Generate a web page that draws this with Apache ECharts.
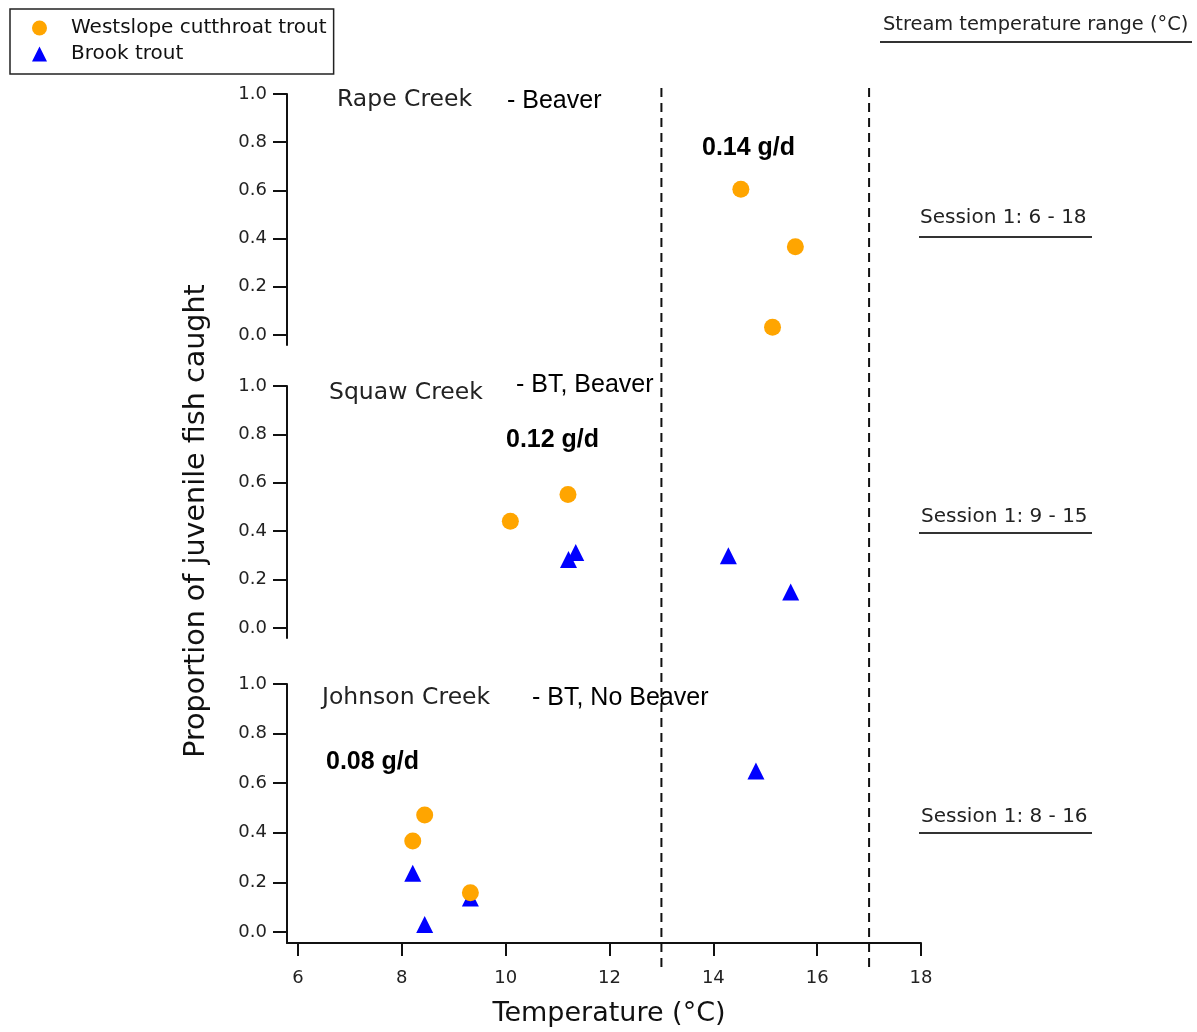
<!DOCTYPE html>
<html><head><meta charset="utf-8">
<script src="https://cdn.jsdelivr.net/npm/echarts@6/dist/echarts.min.js"></script>
<style>html,body{margin:0;padding:0;background:#fff}#c{width:1197px;height:1032px}</style>
</head><body><div id="c"></div>
<script>
// ---------- data ----------
const xTicks = [6, 8, 10, 12, 14, 16, 18];
const yTicks = [0, 0.2, 0.4, 0.6, 0.8, 1.0];
const seriesNames = ['Westslope cutthroat trout', 'Brook trout'];
const creeks = ['Rape Creek', 'Squaw Creek', 'Johnson Creek'];
const creekNotes = ['- Beaver', '- BT, Beaver', '- BT, No Beaver'];
const growthRates = ['0.14 g/d', '0.12 g/d', '0.08 g/d'];
const rangeHeader = 'Stream temperature range (°C)';
const tempRanges = ['Session 1: 6 - 18', 'Session 1: 9 - 15', 'Session 1: 8 - 16'];
const refTemps = [13, 17];
const xTitle = 'Temperature (°C)';
const yTitle = 'Proportion of juvenile fish caught';

// [temperature, proportion]
const rapeWCT = [[14.53, 0.605], [15.58, 0.366], [15.14, 0.032]];
const rapeBT = [];
const squawWCT = [[10.09, 0.441], [11.2, 0.552]];
const squawBT = [[11.21, 0.283], [11.35, 0.312], [14.29, 0.299], [15.49, 0.149]];
const johnsonWCT = [[8.21, 0.367], [8.44, 0.472], [9.32, 0.158]];
const johnsonBT = [[8.21, 0.237], [8.44, 0.030], [9.32, 0.137], [14.82, 0.649]];

// ---------- layout ----------
const WCT_COLOR = '#FFA500', BT_COLOR = '#0000FF';
const LUCIDA = '"DejaVu Sans", sans-serif';
const ARIAL = '"Liberation Sans", Arial, sans-serif';
const XMIN = 5.788, XMAX = 18;
const panels = [
  { top: 94, height: 251, ymin: -0.0415 },
  { top: 386, height: 252, ymin: -0.0413 },
  { top: 684, height: 259, ymin: -0.0444 }
];

const grids = panels.map(p => ({ left: 287, width: 634, top: p.top, height: p.height, containLabel: false, outerBoundsMode: 'none' }));
grids.push({ left: 287, width: 634, top: 87, height: 880, containLabel: false, outerBoundsMode: 'none' });

const xAxes = [0, 1, 2, 3].map(i => {
  const visible = i === 2;
  return {
    type: 'value', gridIndex: i, min: XMIN, max: XMAX, show: visible,
    splitLine: { show: false },
    axisLine: { show: visible, onZero: false, lineStyle: { color: '#111', width: 2 } },
    axisTick: { show: visible, customValues: xTicks, length: 13, lineStyle: { color: '#111', width: 2 } },
    axisLabel: { show: visible, customValues: xTicks, margin: 26, fontFamily: LUCIDA, fontSize: 18, color: '#222' },
    name: visible ? xTitle : '', nameLocation: 'middle', nameGap: 57,
    nameTextStyle: { fontFamily: LUCIDA, fontSize: 27, color: '#111', padding: [0, 0, 0, 10] }
  };
});

const yAxes = panels.map((p, i) => ({
  type: 'value', gridIndex: i, min: p.ymin, max: 1,
  splitLine: { show: false },
  axisLine: { show: true, onZero: false, lineStyle: { color: '#111', width: 2 } },
  axisTick: { show: true, customValues: yTicks, length: 14, lineStyle: { color: '#111', width: 2 } },
  axisLabel: { show: true, customValues: yTicks, margin: 20, fontFamily: LUCIDA, fontSize: 18, color: '#222',
    formatter: v => v.toFixed(1) }
}));
yAxes.push({ type: 'value', gridIndex: 3, min: 0, max: 1, show: false, splitLine: { show: false } });

const panelData = [[rapeWCT, rapeBT], [squawWCT, squawBT], [johnsonWCT, johnsonBT]];
const series = [];
panelData.forEach((pd, i) => {
  series.push({ name: seriesNames[1], type: 'scatter', xAxisIndex: i, yAxisIndex: i, data: pd[1],
    symbol: 'triangle', symbolSize: 17, itemStyle: { color: BT_COLOR, opacity: 1 }, z: 3 });
  series.push({ name: seriesNames[0], type: 'scatter', xAxisIndex: i, yAxisIndex: i, data: pd[0],
    symbol: 'circle', symbolSize: 17, itemStyle: { color: WCT_COLOR, opacity: 1 }, z: 4 });
});
refTemps.forEach(t => {
  series.push({ name: 'ref' + t, type: 'line', xAxisIndex: 3, yAxisIndex: 3, data: [[t, 0], [t, 1]],
    symbol: 'none', silent: true, z: 1,
    lineStyle: { color: '#111', width: 2, type: [9, 6] } });
});

// ---------- text annotations ----------
const graphic = [];
const creekPos = [[337, 100], [329, 393], [322, 698]];
const notePos = [[507, 101], [516, 385], [532, 698]];
const ratePos = [[702, 148], [506, 440], [326, 762]];
const rangePos = [[920, 218, 237], [921, 517, 533], [921, 817, 833]];
creeks.forEach((c, i) => {
  graphic.push({ type: 'text', x: creekPos[i][0], y: creekPos[i][1], style: { text: c, font: '23.5px ' + LUCIDA, fill: '#222', verticalAlign: 'middle' } });
  graphic.push({ type: 'text', x: notePos[i][0], y: notePos[i][1], style: { text: creekNotes[i], font: '25px ' + ARIAL, fill: '#000', verticalAlign: 'middle' } });
  graphic.push({ type: 'text', x: ratePos[i][0], y: ratePos[i][1], style: { text: growthRates[i], font: 'bold 25px ' + ARIAL, fill: '#000', verticalAlign: 'middle' } });
  graphic.push({ type: 'text', x: rangePos[i][0], y: rangePos[i][1], style: { text: tempRanges[i], font: '20px ' + LUCIDA, fill: '#222', verticalAlign: 'middle' } });
  graphic.push({ type: 'line', shape: { x1: 919, y1: rangePos[i][2], x2: 1092, y2: rangePos[i][2] }, style: { stroke: '#333', lineWidth: 2 } });
});
graphic.push({ type: 'text', x: 883, y: 25, style: { text: rangeHeader, font: '19.4px ' + LUCIDA, fill: '#222', verticalAlign: 'middle' } });
graphic.push({ type: 'line', shape: { x1: 880, y1: 42, x2: 1192, y2: 42 }, style: { stroke: '#333', lineWidth: 2 } });
graphic.push({ type: 'text', x: 197, y: 521, rotation: Math.PI / 2, style: { text: yTitle, font: '28.6px ' + LUCIDA, fill: '#111', align: 'center', verticalAlign: 'middle' } });

const chart = echarts.init(document.getElementById('c'), null, { renderer: 'canvas' });
chart.setOption({
  animation: false,
  backgroundColor: '#fff',
  legend: {
    left: 10, top: 9, orient: 'vertical',
    data: [{ name: seriesNames[0], icon: 'circle' }, { name: seriesNames[1], icon: 'triangle' }],
    itemWidth: 15, itemHeight: 15, itemGap: 6,
    padding: [9, 7, 10, 22],
    borderColor: '#222', borderWidth: 1.5, borderRadius: 0,
    textStyle: { fontFamily: LUCIDA, fontSize: 20, color: '#111', lineHeight: 20, padding: [0, 0, 0, 19] },
    selectedMode: false
  },
  grid: grids, xAxis: xAxes, yAxis: yAxes, series, graphic
});
</script></body></html>
